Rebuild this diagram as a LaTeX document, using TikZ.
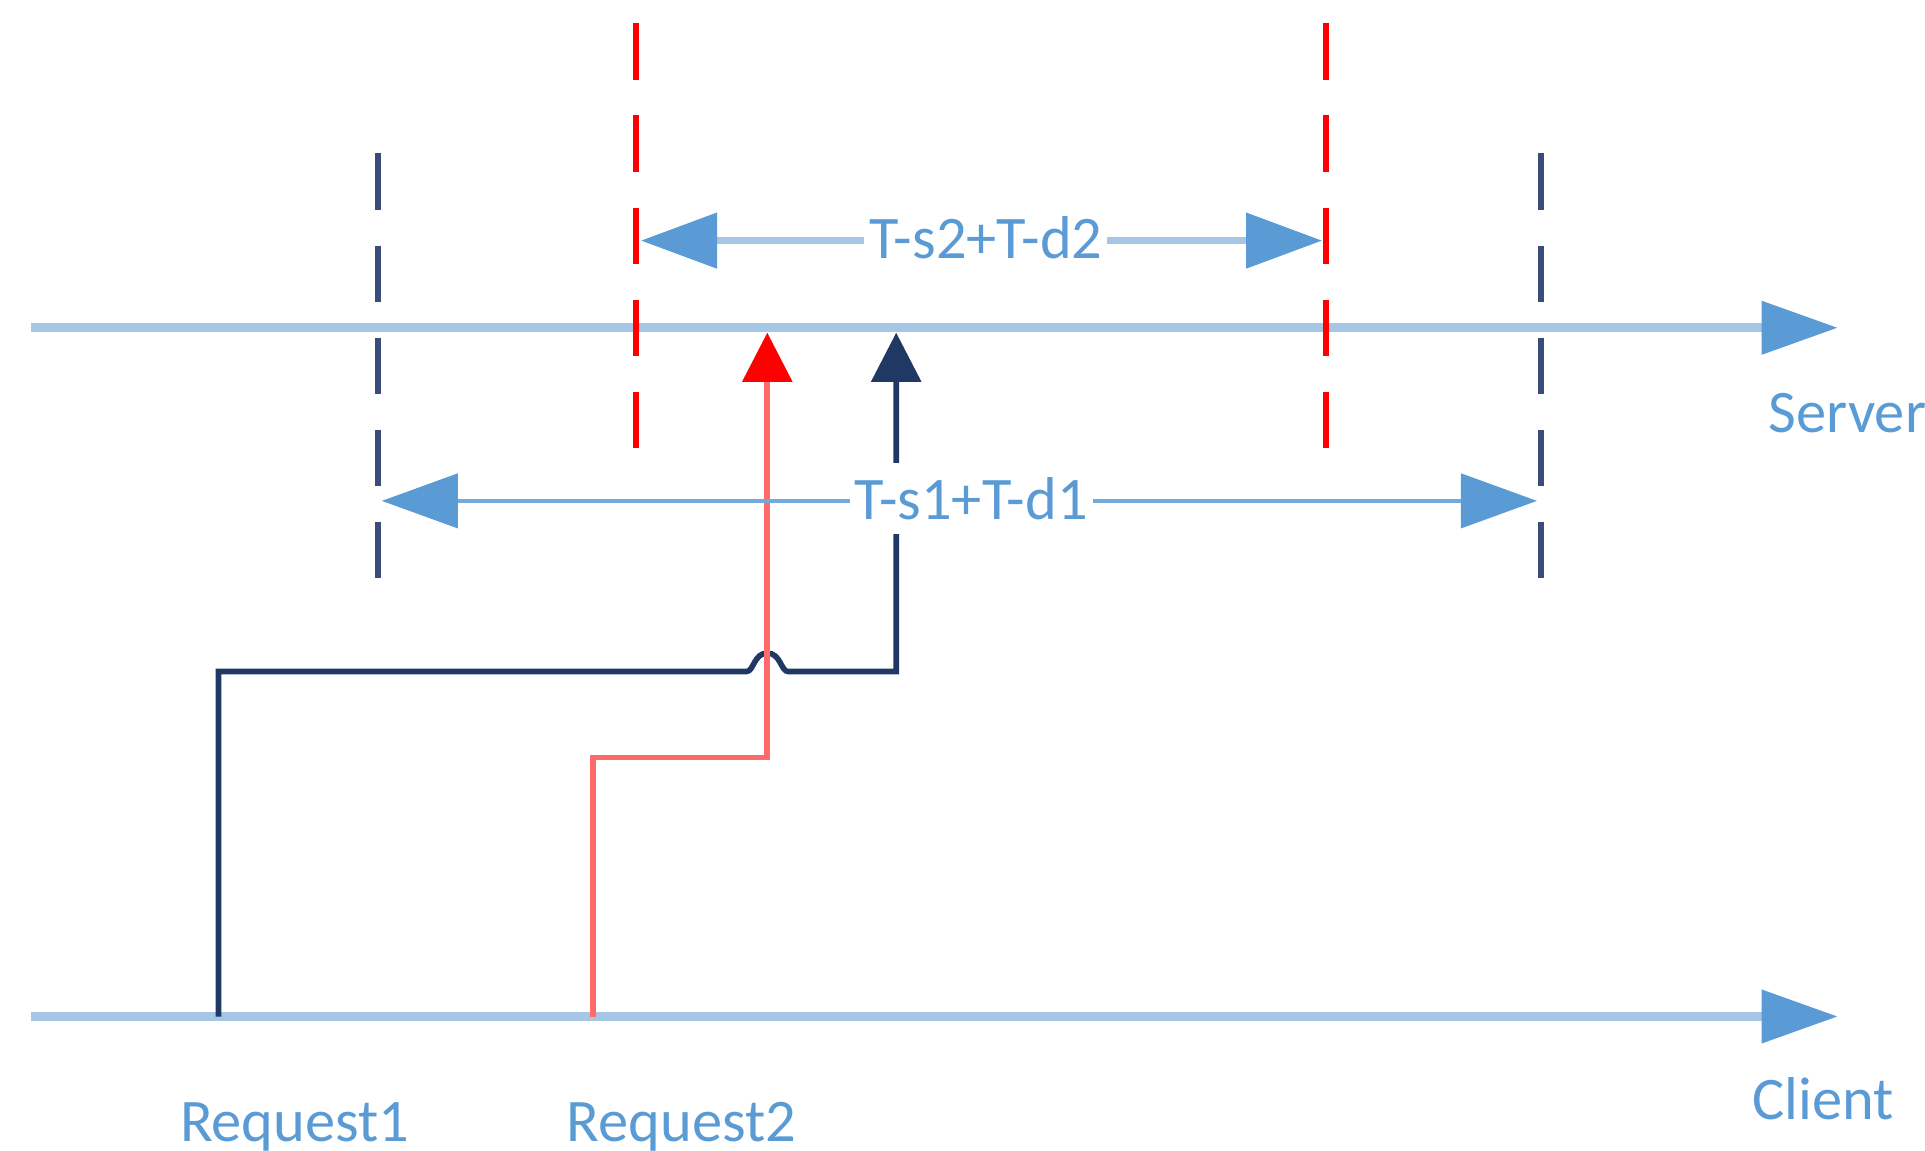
\documentclass[tikz,border=0pt]{standalone}
\usepackage{fontspec}
\setmainfont{Carlito}
\usepackage{tikz}
\usetikzlibrary{arrows.meta}
\definecolor{axisline}{HTML}{A6C6E6}
\definecolor{tipblue}{HTML}{5B9BD5}
\definecolor{navy}{HTML}{1F3864}
\definecolor{dashnavy}{HTML}{3A4D78}
\definecolor{lightred}{HTML}{FF6A6A}

\begin{document}
\begin{tikzpicture}[x=0.01cm, y=-0.01cm,
    axis/.style={draw=axisline, line width=2pt, -{Triangle[length=6.2mm,width=4.2mm,color=tipblue]}},
    span/.style={{Triangle[length=6.2mm,width=4.4mm,color=tipblue]}-{Triangle[length=6.2mm,width=4.4mm,color=tipblue]}},
    marker/.style={line width=1.3pt, dash pattern=on 4.6mm off 2.9mm},
    req/.style={line width=1.3pt},
    lbl/.style={text=tipblue, font=\fontsize{14}{16}\selectfont, inner sep=0pt},
    spanlbl/.style={lbl, fill=white, inner xsep=0.4mm, minimum height=5.8mm}]
    \useasboundingbox (0,0) rectangle (1568,937.5);
    % time axes
    \coordinate (s0) at (25,267);
    \coordinate (s1) at (1497,267);
    \coordinate (c0) at (25,828);
    \coordinate (c1) at (1497,828);
    \draw[axis] (s0) -- (s1);
    \draw[axis] (c0) -- (c1);
    \node[lbl, anchor=base west] (server) at (1440,352) {Server};
    \node[lbl, anchor=base west] (client) at (1427,912) {Client};
    \node[lbl, anchor=base] (req1) at (240,930) {Request1};
    \node[lbl, anchor=base] (req2) at (555,930) {Request2};
    % requests
    \coordinate (r1) at (178,828);
    \coordinate (r2) at (483,828);
    \coordinate (h1) at (730,271);
    \coordinate (h2) at (625,271);
    \draw[req, navy, -{Triangle[length=4mm,width=4mm]}] (r1) |- (608,547)
      .. controls (614,547) and (614,532) .. (625,532)
      .. controls (636,532) and (636,547) .. (642,547) -| (h1);
    \draw[req, lightred, -{Triangle[length=4mm,width=4mm,color=red]}] (r2) |- (625,617) -- (h2);
    % windows
    \foreach \x in {308,1255}
      \draw[marker, dashnavy] (\x,125) -- (\x,471);
    \foreach \x in {518,1080}
      \draw[marker, red] (\x,19) -- (\x,365);
    \coordinate (w2a) at (522,196);
    \coordinate (w2b) at (1077,196);
    \coordinate (w1a) at (311,408);
    \coordinate (w1b) at (1252,408);
    \draw[span, axisline, line width=1.8pt] (w2a) -- (w2b);
    \node[spanlbl] (d2) at (803,194) {T-s2+T-d2};
    \draw[span, tipblue!85, line width=1pt] (w1a) -- (w1b);
    \node[spanlbl] (d1) at (791,406) {T-s1+T-d1};
\end{tikzpicture}
\end{document}
